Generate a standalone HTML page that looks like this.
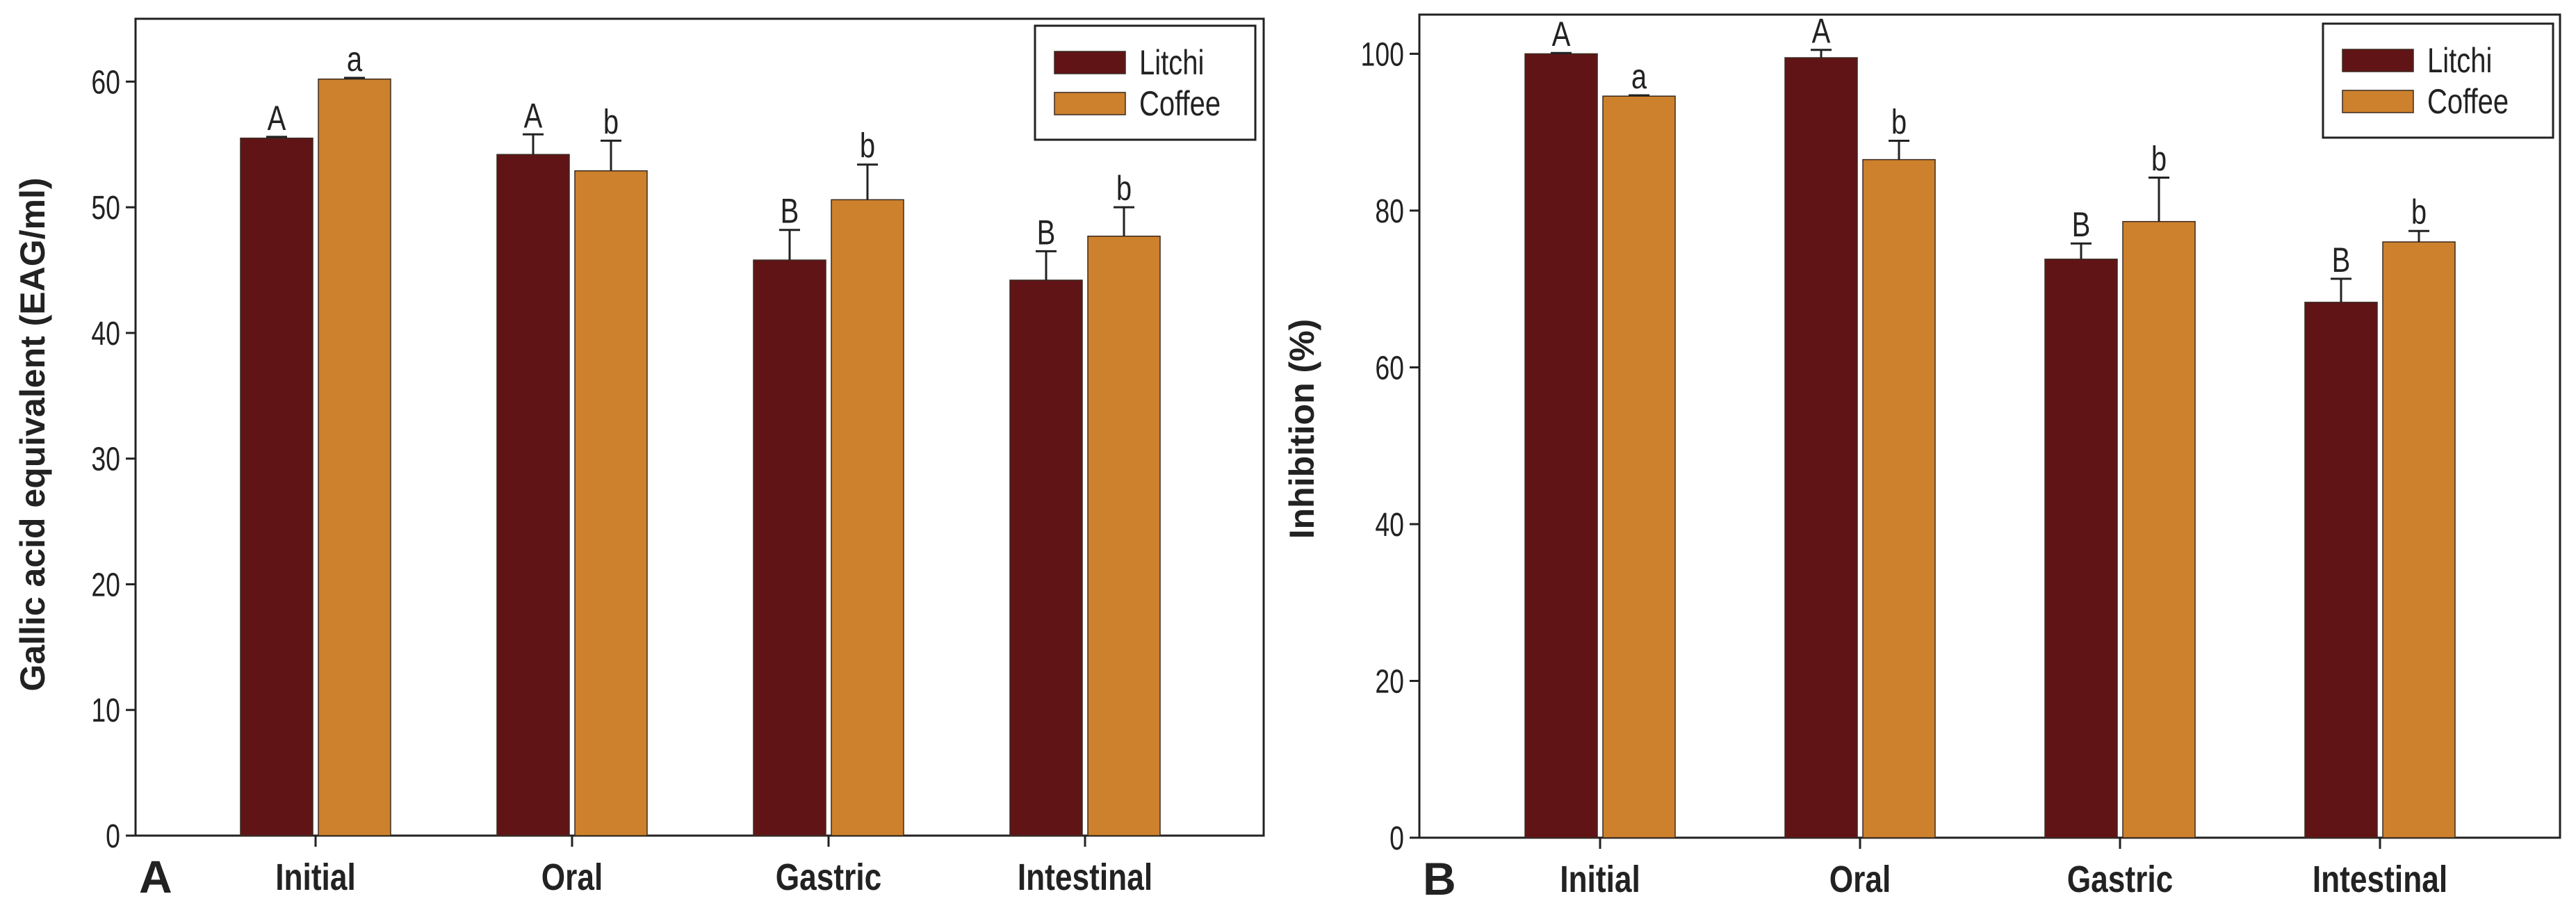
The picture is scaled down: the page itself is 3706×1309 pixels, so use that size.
<!DOCTYPE html>
<html><head><meta charset="utf-8"><style>
html,body{margin:0;padding:0;background:#fff}
svg{display:block}
text{font-family:"Liberation Sans",Arial,sans-serif}
</style></head><body>
<svg id="chart" width="3706" height="1309" viewBox="0 0 3706 1309" xmlns="http://www.w3.org/2000/svg"></svg>
<script>
const categories = ["Initial","Oral","Gastric","Intestinal"];
const seriesNames = ["Litchi","Coffee"];
const litchiA = [55.5, 54.2, 45.8, 44.2];
const coffeeA = [60.2, 52.9, 50.6, 47.7];
const litchiErrA = [0.1, 1.6, 2.4, 2.3];
const coffeeErrA = [0.1, 2.4, 2.8, 2.3];
const litchiLetA = ["A","A","B","B"];
const coffeeLetA = ["a","b","b","b"];
const ticksA = [0,10,20,30,40,50,60];
const litchiB = [100, 99.5, 73.8, 68.3];
const coffeeB = [94.6, 86.5, 78.6, 76.0];
const litchiErrB = [0.1, 1.0, 2.0, 3.0];
const coffeeErrB = [0.1, 2.4, 5.6, 1.4];
const litchiLetB = ["A","A","B","B"];
const coffeeLetB = ["a","b","b","b"];
const ticksB = [0,20,40,60,80,100];

const NS="http://www.w3.org/2000/svg";
const svg=document.getElementById('chart');
function mk(tag,attrs,parent){const e=document.createElementNS(NS,tag);for(const k in attrs)e.setAttribute(k,attrs[k]);(parent||svg).appendChild(e);return e;}
function narrow(x,s){return `translate(${x},0) scale(${s},1) translate(${-x},0)`;}
const COL=["#611416","#cd812c"];

function panel(cfg){
  const g=mk('g',{});
  
  
  const y=v=>cfg.bottom-(v/cfg.max)*(cfg.bottom-cfg.top);
  const cx=i=>cfg.x0+i*cfg.step;
  const fr=mk('rect',{x:cfg.left,y:cfg.top,width:cfg.right-cfg.left,height:cfg.bottom-cfg.top,fill:'none',stroke:'#222','stroke-width':3},g);
  
  
  cfg.ticks.forEach(t=>{
    const l=mk('line',{x1:cfg.left-14,x2:cfg.left,y1:y(t),y2:y(t),stroke:'#222','stroke-width':3},g);
    
    
    const tx=mk('text',{x:cfg.left-22,y:y(t)+17,'text-anchor':'end','font-size':48,fill:'#222',transform:narrow(cfg.left-22,0.78)},g);
    tx.textContent=t;
    
    
  });
  const bw=cfg.bw;
  [cfg.s1,cfg.s2].forEach((s,si)=>{
    const errs=si?cfg.e2:cfg.e1, lets=si?cfg.l2:cfg.l1;
    s.forEach((v,i)=>{
      const bx=si?cx(i)+4:cx(i)-4-bw;
      const r=mk('rect',{x:bx,y:y(v),width:bw,height:cfg.bottom-y(v),fill:COL[si],stroke:'#3a2a20','stroke-width':1.5},g);
      
      
      const mx=bx+bw/2, ey=y(v+errs[i]);
      const e1=mk('line',{x1:mx,x2:mx,y1:y(v),y2:ey,stroke:'#222','stroke-width':3},g);
      
      
      const e2=mk('line',{x1:mx-15,x2:mx+15,y1:ey,y2:ey,stroke:'#222','stroke-width':3},g);
      
      
      const lt=mk('text',{x:mx,y:ey-10,'text-anchor':'middle','font-size':50,fill:'#222',transform:narrow(mx,0.8)},g);
      lt.textContent=lets[i];
      
      
    });
  });
  categories.forEach((c,i)=>{
    const l=mk('line',{x1:cx(i),x2:cx(i),y1:cfg.bottom,y2:cfg.bottom+16,stroke:'#222','stroke-width':3},g);
    
    
    const t=mk('text',{x:cx(i),y:cfg.bottom+78,'text-anchor':'middle','font-size':54,'font-weight':'bold',fill:'#222',transform:narrow(cx(i),0.82)},g);
    t.textContent=c;
    
    
  });
  const pl=mk('text',{x:cfg.left+5,y:cfg.bottom+82,'font-size':66,'font-weight':'bold',fill:'#222'},g);
  pl.textContent=cfg.label;
  
  
  const yt=mk('text',{x:0,y:0,'text-anchor':'middle','font-size':50,'font-weight':'bold',fill:'#222',transform:`translate(${cfg.ytx},${cfg.yty}) rotate(-90)`},g);
  yt.textContent=cfg.ytitle;
  
  
  const lg=mk('g',{},g);
  
  
  mk('rect',{x:cfg.lx,y:cfg.ly,width:cfg.lw,height:164,fill:'#fff',stroke:'#222','stroke-width':3},lg);
  seriesNames.forEach((n,si)=>{
    const sw=mk('rect',{x:cfg.lx+28,y:cfg.ly+37+si*59,width:102,height:32,fill:COL[si],stroke:'#3a2a20','stroke-width':1.5},lg);
    
    
    const t=mk('text',{x:cfg.lx+150,y:cfg.ly+70+si*59,'font-size':50,fill:'#222',transform:narrow(cfg.lx+150,0.8)},lg);
    t.textContent=n;
    
    
  });
}
panel({name:'panel-a-chart',left:195,right:1818,top:27,bottom:1202,max:65,ticks:ticksA,x0:454,step:369,bw:104,
  s1:litchiA,s2:coffeeA,e1:litchiErrA,e2:coffeeErrA,l1:litchiLetA,l2:coffeeLetA,label:'A',
  ytitle:'Gallic acid equivalent (EAG/ml)',ytx:64,yty:625,lx:1489,ly:37,lw:317});
panel({name:'panel-b-chart',left:2042,right:3683,top:21,bottom:1205,max:105,ticks:ticksB,x0:2302,step:374,bw:104,
  s1:litchiB,s2:coffeeB,e1:litchiErrB,e2:coffeeErrB,l1:litchiLetB,l2:coffeeLetB,label:'B',
  ytitle:'Inhibition (%)',ytx:1890,yty:617,lx:3342,ly:34,lw:331});
</script>
</body></html>
